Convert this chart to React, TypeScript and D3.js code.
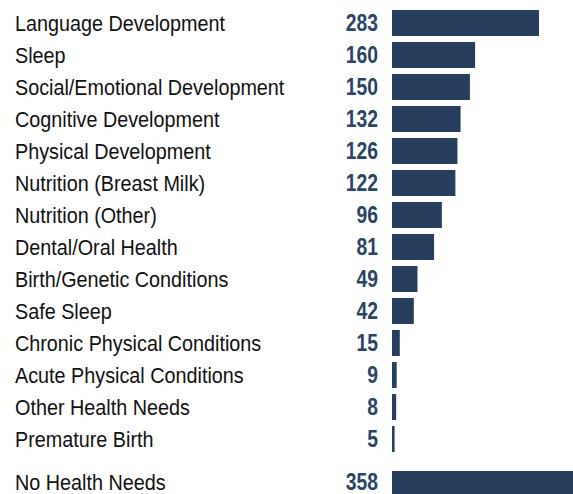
import { useEffect, useRef } from 'react';
import * as d3 from 'd3';

const categories = [
  "Language Development",
  "Sleep",
  "Social/Emotional Development",
  "Cognitive Development",
  "Physical Development",
  "Nutrition (Breast Milk)",
  "Nutrition (Other)",
  "Dental/Oral Health",
  "Birth/Genetic Conditions",
  "Safe Sleep",
  "Chronic Physical Conditions",
  "Acute Physical Conditions",
  "Other Health Needs",
  "Premature Birth",
];
const counts = [283, 160, 150, 132, 126, 122, 96, 81, 49, 42, 15, 9, 8, 5];

const totalCategory = ["No Health Needs"];
const totalCounts = [358];

const W = 573;
const H = 494;
const BAR = "#263f5f";
const FONT = "'Liberation Sans', Arial, sans-serif";

export default function App() {
  const svgRef = useRef<SVGSVGElement>(null);

  useEffect(() => {
    if (!svgRef.current) return;
    const svg = d3.select(svgRef.current);
    svg.selectAll("*").remove();

    const x = d3.scaleLinear().domain([0, 283]).range([392, 539]);

    // main rows, 32px pitch with 26px bars
    const y = d3.scaleBand<string>()
      .domain(categories)
      .range([10, 452])
      .paddingInner(6 / 32)
      .paddingOuter(0);

    // the separated "No Health Needs" row
    const y2 = d3.scaleBand<string>().domain(totalCategory).range([471, 497]);

    const rows = [
      ...categories.map((c, i) => ({ label: c, value: counts[i], top: y(c)!, h: y.bandwidth() })),
      ...totalCategory.map((c, i) => ({ label: c, value: totalCounts[i], top: y2(c)!, h: y2.bandwidth() })),
    ];

    const g = svg.selectAll("g.row").data(rows).enter().append("g").attr("class", "row");

    g.append("rect")
      .attr("x", x(0))
      .attr("y", d => d.top)
      .attr("width", d => x(d.value) - x(0))
      .attr("height", d => d.h)
      .attr("fill", BAR);

    // no narrow font installed, so squeeze the regular one horizontally
    g.append("text")
      .text(d => d.label)
      .attr("transform", d => `translate(15,${Math.min(d.top + d.h / 2 + 8, 490)}) scale(0.9,1)`)
      .style("font-family", FONT)
      .style("font-size", "22px")
      .style("fill", "#111");

    g.append("text")
      .text(d => d.value)
      .attr("transform", d => `translate(378,${Math.min(d.top + d.h / 2 + 8, 490)}) scale(0.84,1)`)
      .attr("text-anchor", "end")
      .style("font-family", FONT)
      .style("font-weight", "bold")
      .style("font-size", "23px")
      .style("fill", "#2a4466");
  }, []);

  return (
    <svg
      ref={svgRef}
      width={W}
      height={H}
      style={{ position: "absolute", left: 0, top: 0, background: "#fff" }}
    />
  );
}
